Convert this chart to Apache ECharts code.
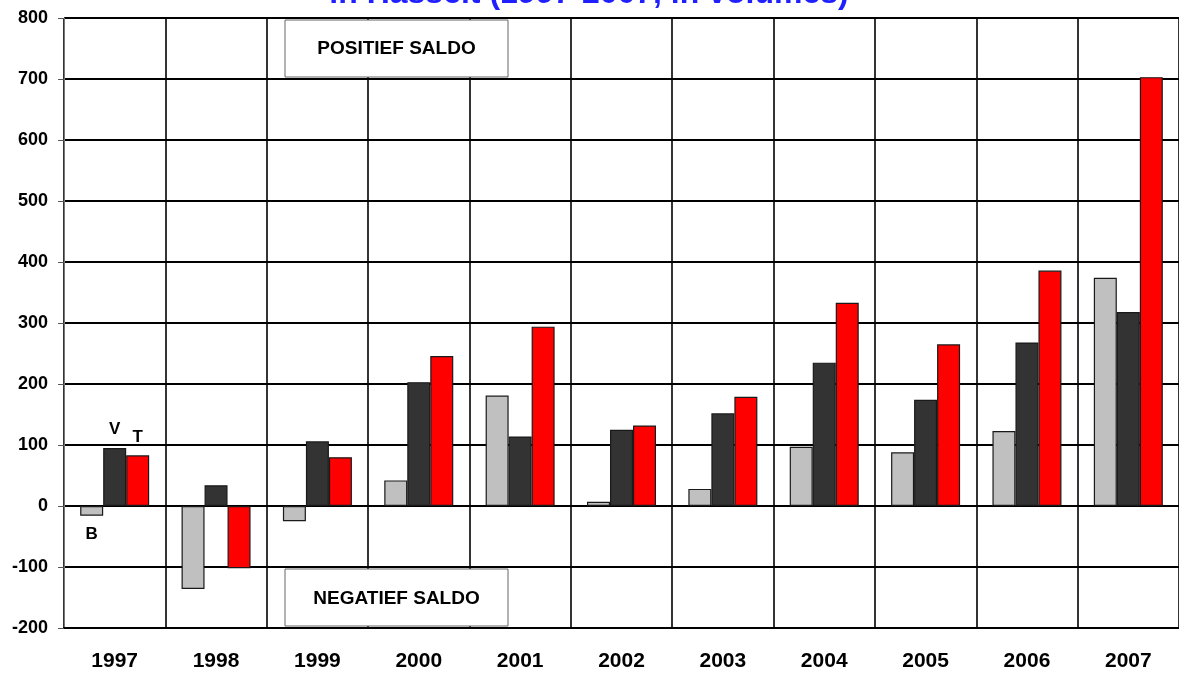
<!DOCTYPE html>
<html><head><meta charset="utf-8">
<script src="https://cdn.jsdelivr.net/npm/echarts@6/dist/echarts.min.js"></script>
<style>html,body{margin:0;padding:0;background:#fff}#c{width:1179px;height:675px}</style>
</head><body><div id="c"></div>
<script>
const categories = ['1997','1998','1999','2000','2001','2002','2003','2004','2005','2006','2007'];
const seriesB = [-16, -136, -25, 42, 181, 7, 28, 97, 88, 123, 374];
const seriesV = [95, 34, 106, 203, 114, 125, 152, 235, 174, 268, 318];
const seriesT = [83, -102, 80, 246, 294, 132, 179, 333, 265, 386, 703];
const yTicks = [-200, -100, 0, 100, 200, 300, 400, 500, 600, 700, 800];
const titleText = 'in Hasselt (1997-2007, in volumes)';
const positiveText = 'POSITIEF SALDO';
const negativeText = 'NEGATIEF SALDO';

const font = 'Liberation Sans, Arial, sans-serif';
const chart = echarts.init(document.getElementById('c'), null, {renderer:'canvas'});

function mk(name, data, color, labelIdx, labelPos, labelDist) {
  return {
    name, type:'bar', data: data.map((v,i)=> i===labelIdx ? {
      value:v,
      label:{show:true, formatter:name, position:labelPos, distance:labelDist,
        fontFamily:font, fontWeight:'bold', fontSize:17, color:'#000'}
    } : v),
    barWidth:23, barGap:'0%',
    itemStyle:{color, borderColor:'#1a1a1a', borderWidth:1.2},
    z:3
  };
}

chart.setOption({
  animation:false,
  grid:{left:64, right:0, top:18, bottom:47},
  xAxis:{
    type:'category', data:categories, boundaryGap:true,
    axisLine:{onZero:false, lineStyle:{color:'#000', width:2}},
    axisTick:{show:false},
    axisLabel:{fontFamily:font, fontWeight:'bold', fontSize:21, color:'#000', margin:23},
    splitLine:{show:true, lineStyle:{color:'#000', width:1.6}}
  },
  yAxis:{
    type:'value', min:yTicks[0], max:yTicks[yTicks.length-1], interval:100,
    axisLine:{show:true, lineStyle:{color:'#777', width:1}},
    axisTick:{show:true, length:6, lineStyle:{color:'#555'}},
    axisLabel:{fontFamily:font, fontWeight:'bold', fontSize:18, color:'#000', margin:16},
    splitLine:{show:true, lineStyle:{color:'#000', width:2}}
  },
  series:[
    mk('B', seriesB, '#c0c0c0', 0, 'bottom', 10),
    mk('V', seriesV, '#333333', 0, 'top', 10),
    mk('T', seriesT, '#ff0000', 0, 'top', 10)
  ],
  graphic:[
    {type:'text', x:589, y:-6, z:10,
      style:{text:titleText, font:'bold 32px '+font, fill:'#1f1fff', textAlign:'center', textVerticalAlign:'middle'}},
    {type:'rect', x:285, y:20, z:10, shape:{width:223, height:57},
      style:{fill:'#fff', stroke:'#666', lineWidth:1}},
    {type:'text', x:396.5, y:49, z:11,
      style:{text:positiveText, font:'bold 19px '+font, fill:'#000', textAlign:'center', textVerticalAlign:'middle'}},
    {type:'rect', x:285, y:569, z:10, shape:{width:223, height:57},
      style:{fill:'#fff', stroke:'#666', lineWidth:1}},
    {type:'text', x:396.5, y:598.5, z:11,
      style:{text:negativeText, font:'bold 19px '+font, fill:'#000', textAlign:'center', textVerticalAlign:'middle'}}
  ]
});
</script></body></html>
